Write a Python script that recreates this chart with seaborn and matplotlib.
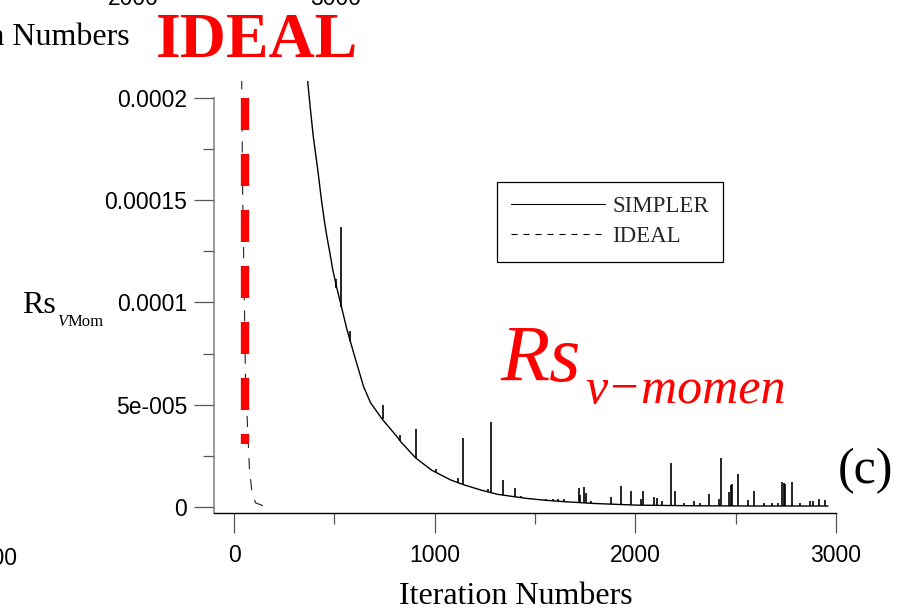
import numpy as np
import pandas as pd
import matplotlib
matplotlib.use("Agg")
import matplotlib.pyplot as plt
from matplotlib.lines import Line2D
from matplotlib.ticker import FixedLocator, FixedFormatter
import seaborn as sns

# ---- data -------------------------------------------------------------
# SIMPLER residual: smooth decay of the V-momentum residual
sim_iter = [330, 367, 382, 395, 417, 437, 450, 463, 478, 492, 510, 530, 562,
            597, 645, 680, 738, 811, 830, 905, 985, 1080, 1147, 1230, 1313,
            1450, 1550, 1647, 1800, 2013, 2300, 2600, 2960]
sim_res = [2.45e-4, 2.08e-4, 1.93e-4, 1.81e-4, 1.65e-4, 1.49e-4, 1.40e-4,
           1.32e-4, 1.24e-4, 1.16e-4, 1.08e-4, 1.0e-4, 8.7e-5, 7.5e-5,
           5.9e-5, 5.1e-5, 4.3e-5, 3.45e-5, 3.2e-5, 2.4e-5, 1.8e-5, 1.32e-5,
           1.08e-5, 8.3e-6, 6.2e-6, 4.3e-6, 3.3e-6, 2.6e-6, 1.7e-6, 0.9e-6,
           0.6e-6, 0.5e-6, 0.5e-6]

# SIMPLER single-iteration jumps: iteration, value before jump, peak value
spike_iter = [508, 533, 580, 740, 825, 907, 1005, 1118, 1143, 1267, 1283,
              1338, 1398, 1430, 1480, 1555, 1588, 1613, 1643, 1718, 1723,
              1742, 1755, 1780, 1880, 1930, 1980, 2030, 2038, 2092, 2108,
              2133, 2180, 2200, 2240, 2293, 2320, 2367, 2418, 2428, 2468,
              2475, 2483, 2510, 2560, 2593, 2640, 2680, 2710, 2733, 2740,
              2747, 2780, 2820, 2872, 2885, 2913, 2943]
spike_base = [1.07e-4, 9.8e-5, 8.1e-5, 4.3e-5, 3.25e-5, 2.39e-5, 1.7e-5,
              1.15e-5, 1.09e-5, 7.3e-6, 6.9e-6, 5.8e-6, 5.0e-6, 4.6e-6,
              4.0e-6, 3.3e-6, 3.0e-6, 2.8e-6, 2.6e-6, 2.2e-6, 2.2e-6, 2.1e-6,
              2.0e-6, 1.8e-6, 1.4e-6, 1.2e-6, 1.0e-6, 0.9e-6, 0.9e-6, 0.8e-6,
              0.8e-6, 0.8e-6, 0.7e-6, 0.7e-6, 0.65e-6, 0.6e-6, 0.6e-6, 0.6e-6,
              0.6e-6, 0.6e-6, 0.55e-6, 0.55e-6, 0.55e-6, 0.5e-6, 0.5e-6,
              0.5e-6, 0.5e-6, 0.5e-6, 0.5e-6, 0.5e-6, 0.5e-6, 0.5e-6, 0.5e-6,
              0.5e-6, 0.5e-6, 0.5e-6, 0.5e-6, 0.5e-6]
spike_top = [1.115e-4, 1.37e-4, 8.6e-5, 5.0e-5, 3.5e-5, 3.82e-5, 1.85e-5,
             1.41e-5, 3.38e-5, 8.7e-6, 4.14e-5, 1.33e-5, 9.2e-6, 5.6e-6,
             4.5e-6, 3.9e-6, 4.1e-6, 4.1e-6, 3.9e-6, 9.2e-6, 6.0e-6, 9.7e-6,
             7.0e-6, 2.9e-6, 4.8e-6, 1.03e-5, 8.0e-6, 3.9e-6, 7.9e-6, 5.1e-6,
             4.3e-6, 2.9e-6, 2.15e-5, 7.9e-6, 1.8e-6, 2.8e-6, 1.8e-6, 6.4e-6,
             4.1e-6, 2.39e-5, 7.5e-6, 1.08e-5, 1.13e-5, 1.62e-5, 3.4e-6,
             7.9e-6, 1.8e-6, 1.8e-6, 2.1e-6, 1.23e-5, 1.15e-5, 1.11e-5,
             1.21e-5, 2.0e-6, 2.9e-6, 2.9e-6, 3.9e-6, 3.4e-6]

# IDEAL residual
ideal_iter = [36, 38, 43, 52, 58, 65, 77, 88, 100, 108, 158]
ideal_res = [2.2e-4, 2.09e-4, 1.52e-4, 9.6e-5, 5.6e-5, 4.4e-5, 1.8e-5,
             8.3e-6, 4.0e-6, 2.0e-6, 1.5e-7]

# highlight over the IDEAL curve
mark_iter = [56, 56]
mark_res = [2.0e-4, 3.1e-5]

x_ticks = [0, 1000, 2000, 3000]
x_labels = ["0", "1000", "2000", "3000"]
x_minor = [500, 1500, 2500]
y_ticks = [0, 5e-5, 1e-4, 1.5e-4, 2e-4]
y_labels = ["0", "5e-005", "0.0001", "0.00015", "0.0002"]
y_minor = [2.5e-5, 7.5e-5, 1.25e-4, 1.75e-4]

# ---- figure -----------------------------------------------------------
sns.set_theme(style="white")
plt.rcParams["font.family"] = ["Liberation Sans", "DejaVu Sans"]

W, H = 898, 611
fig = plt.figure(figsize=(W / 100, H / 100), dpi=100)
fig.patch.set_facecolor("white")


def fx(px):
    return px / W


def fy(py):
    return 1 - py / H


ax = fig.add_axes([fx(214), fy(513), fx(836) - fx(214), fy(81) - fy(513)])
ax.set_facecolor("white")

serif = "Liberation Serif"
sans = "Liberation Sans"

df_sim = pd.DataFrame({"iter": sim_iter, "res": sim_res})
df_ideal = pd.DataFrame({"iter": ideal_iter, "res": ideal_res})

sns.lineplot(data=df_sim, x="iter", y="res", ax=ax, color="black",
             linewidth=1.0, sort=False, estimator=None)
ax.vlines(spike_iter, spike_base, spike_top, color="black", linewidth=1.2)

sns.lineplot(data=df_ideal, x="iter", y="res", ax=ax, color="#222222",
             linewidth=0.8, sort=False, estimator=None,
             linestyle=(0, (10, 9)))

ax.plot(mark_iter, mark_res, color="red", linewidth=6,
        linestyle=(0, (3.84, 2.88)), dash_capstyle="butt",
        solid_capstyle="butt")

ax.set_xlim(-100, 3000)
ax.set_ylim(-2.93e-6, 2.083e-4)

ax.xaxis.set_major_locator(FixedLocator(x_ticks))
ax.xaxis.set_major_formatter(FixedFormatter(x_labels))
ax.xaxis.set_minor_locator(FixedLocator(x_minor))
ax.yaxis.set_major_locator(FixedLocator(y_ticks))
ax.yaxis.set_major_formatter(FixedFormatter(y_labels))
ax.yaxis.set_minor_locator(FixedLocator(y_minor))

ax.tick_params(axis="both", which="major", direction="out", length=14.4,
               width=0.9, color="#555555", labelsize=16.5,
               labelcolor="black")
ax.tick_params(axis="both", which="minor", direction="out", length=7.6,
               width=0.9, color="#555555")
ax.tick_params(axis="x", which="major", pad=8)
ax.tick_params(axis="y", which="major", pad=5)
ax.tick_params(left=True, bottom=True, which="both")
for lab in ax.get_xticklabels() + ax.get_yticklabels():
    lab.set_fontfamily(sans)

for side in ("top", "right"):
    ax.spines[side].set_visible(False)
ax.spines["left"].set_color("#808080")
ax.spines["left"].set_linewidth(1.1)
ax.spines["left"].set_bounds(-2.93e-6, 2e-4)
ax.spines["bottom"].set_color("black")
ax.spines["bottom"].set_linewidth(1.0)

ax.set_xlabel("")
ax.set_ylabel("")

# legend
handles = [Line2D([], [], color="black", linewidth=0.8),
           Line2D([], [], color="black", linewidth=0.8,
                  linestyle=(0, (5.4, 5.4)))]
leg = ax.legend(handles, ["SIMPLER", "IDEAL"], loc="upper left",
                bbox_to_anchor=(fx(497), fy(182)),
                bbox_transform=fig.transFigure, borderaxespad=0,
                prop={"family": serif, "size": 16.5}, handlelength=4.1,
                handletextpad=0.3, labelspacing=0.4, borderpad=0.62,
                fancybox=False, framealpha=1, edgecolor="black")
leg.get_frame().set_linewidth(0.9)

# axis titles
fig.text(fx(516), fy(604), "Iteration Numbers", family=serif, size=23,
         ha="center", va="baseline", color="black")
fig.text(fx(22), fy(313), "Rs", family=serif, size=23, ha="left",
         va="baseline", color="black")
fig.text(fx(57), fy(326), "V", family=serif, style="italic", size=12,
         ha="left", va="baseline", color="black")
fig.text(fx(68), fy(326), "Mom", family=serif, size=12, ha="left",
         va="baseline", color="black")

# annotations
fig.text(fx(257), fy(57), "IDEAL", family=serif, weight="bold", size=46,
         color="red", ha="center", va="baseline")
fig.text(fx(500), fy(381), "Rs", family=serif, style="italic", size=58,
         color="red", ha="left", va="baseline")
fig.text(fx(585), fy(403), "v\u2212momen", family=serif, style="italic",
         size=36, color="red", ha="left", va="baseline")
fig.text(fx(865), fy(483), "(c)", family=serif, size=36, color="black",
         ha="center", va="baseline")

# neighbouring panel pieces at the figure edges
fig.text(fx(130), fy(45), "Iteration Numbers", family=serif, size=23,
         ha="right", va="baseline", color="black")
fig.text(fx(133), fy(5), "2000", family=sans, size=16.5, ha="center",
         va="baseline", color="black")
fig.text(fx(336), fy(5), "3000", family=sans, size=16.5, ha="center",
         va="baseline", color="black")
fig.text(fx(-8), fy(565), "3000", family=sans, size=16.5, ha="center",
         va="baseline", color="black")

fig.savefig("out.png", dpi=100, facecolor="white")
